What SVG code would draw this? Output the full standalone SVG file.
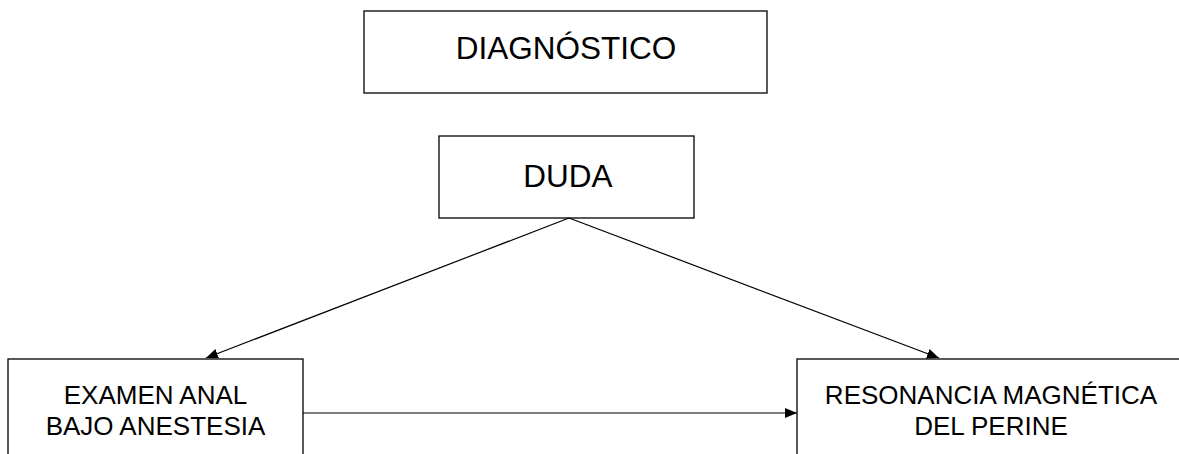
<svg xmlns="http://www.w3.org/2000/svg" width="1179" height="454" viewBox="0 0 1179 454">
<style>
.box{fill:#fff;stroke:#000;stroke-width:1.3}
.t{font-family:"Liberation Sans",Arial,sans-serif;fill:#000;text-anchor:middle}
.big{font-size:31.5px}
.sm{font-size:26px}
.c{stroke:#000;stroke-width:1.2;fill:none}
</style>
<defs>
<marker id="ah" viewBox="0 0 12 10" refX="12" refY="5" markerWidth="12" markerHeight="10" markerUnits="userSpaceOnUse" orient="auto">
<path d="M0,0 L12,5 L0,10 Z" fill="#000"/>
</marker>
</defs>
<rect width="1179" height="454" fill="#fff"/>
<g id="diagnostico">
<rect class="box" x="364" y="11" width="403" height="82"/>
<text class="t big" x="566" y="59">DIAGNÓSTICO</text>
</g>
<g id="duda">
<rect class="box" x="439" y="136" width="255" height="82"/>
<text class="t big" x="568" y="187">DUDA</text>
</g>
<g id="examen">
<rect class="box" x="8" y="359" width="295" height="120"/>
<text class="t sm" x="155.5" y="404">EXAMEN ANAL</text>
<text class="t sm" x="155.5" y="435">BAJO ANESTESIA</text>
</g>
<g id="resonancia">
<rect class="box" x="797" y="359" width="390" height="120"/>
<text class="t sm" x="991" y="404">RESONANCIA MAGNÉTICA</text>
<text class="t sm" x="991" y="435">DEL PERINE</text>
</g>
<g id="connectors">
<line class="c" x1="569" y1="218" x2="206" y2="358" marker-end="url(#ah)"/>
<line class="c" x1="569" y1="218" x2="939" y2="358" marker-end="url(#ah)"/>
<line class="c" x1="303" y1="413" x2="797" y2="413" marker-end="url(#ah)"/>
</g>
</svg>
